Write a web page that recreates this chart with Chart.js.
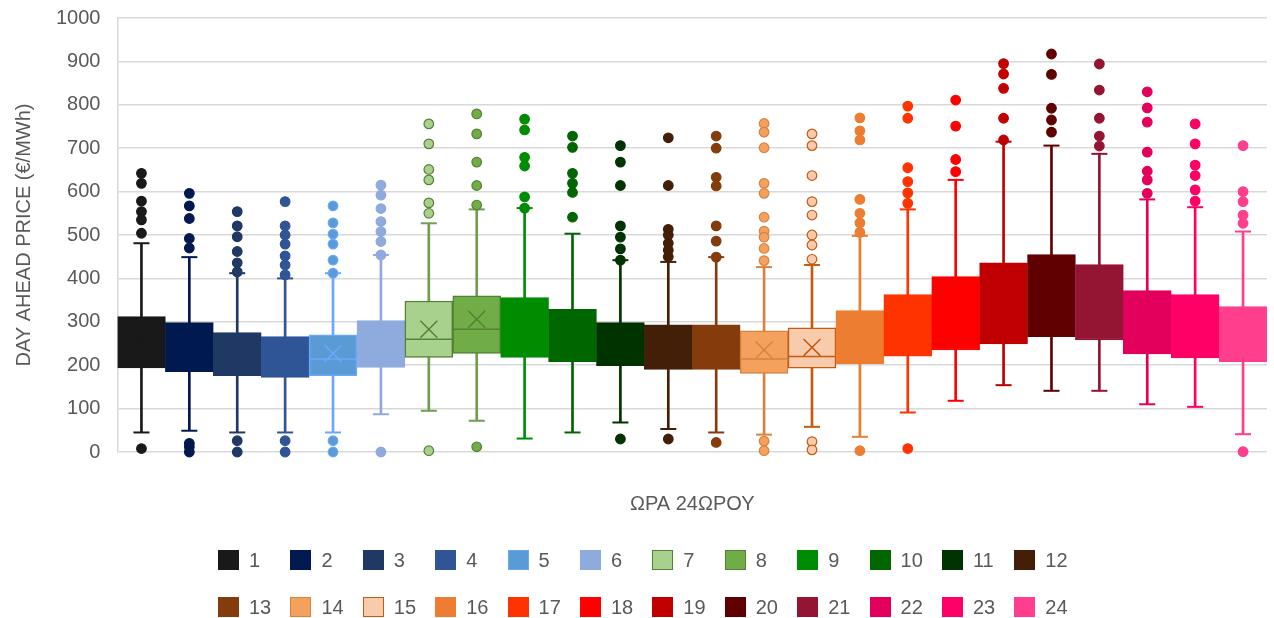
<!DOCTYPE html>
<html>
<head>
<meta charset="utf-8">
<title>Day ahead price per hour</title>
<script src="https://cdn.jsdelivr.net/npm/chart.js@4.4.1/dist/chart.umd.min.js"></script>
<style>
    html, body { margin: 0; background: #fff; overflow: hidden; }
    #wrap { position: relative; width: 1274px; height: 618px; }
    #legend {
        position: absolute; left: 218px; top: 550px;
        display: grid; grid-template-columns: repeat(12, 72.4px); row-gap: 27px;
        font: 20px 'Liberation Sans', Arial, sans-serif; color: #595959;
    }
    .item { display: flex; align-items: center; height: 20px; line-height: 20px; }
    .swatch { width: 21px; height: 20px; border: 1.5px solid; box-sizing: border-box; margin-right: 10px; }
</style>
</head>
<body>
<div id="wrap">
    <canvas id="boxChart"></canvas>
    <div id="legend"></div>
</div>
<script>
// one box per hour of the day
const hours = ['1','2','3','4','5','6','7','8','9','10','11','12','13','14','15','16','17','18','19','20','21','22','23','24'];

const whiskerLow  = [45, 49, 45, 45, 45, 87, 95, 72, 31, 45, 68, 53, 45, 40, 58, 35, 91, 118, 154, 141, 141, 110, 104, 41];
const q1          = [194, 185, 176, 172, 176, 195, 218, 227, 218, 208, 199, 190, 190, 181, 193, 203, 221, 235, 249, 266, 258, 226, 217, 208];
const medians     = [245, 235, 220, 215, 214, 240, 260, 283, 280, 265, 245, 240, 240, 214, 220, 260, 290, 320, 340, 360, 345, 295, 290, 270];
const means       = [260, 250, 235, 230, 227, 255, 283, 306, 300, 285, 262, 258, 258, 235, 241, 282, 312, 345, 365, 385, 370, 318, 310, 292];
const q3          = [312, 298, 275, 266, 270, 303, 348, 360, 356, 329, 298, 293, 293, 279, 286, 326, 363, 404, 436, 455, 432, 372, 363, 335];
const whiskerHigh = [481, 449, 412, 400, 412, 454, 527, 559, 562, 503, 442, 438, 449, 426, 431, 498, 559, 627, 715, 706, 687, 582, 564, 508];

const outliers = [
    [642, 619, 578, 554, 535, 504, 8],
    [596, 567, 538, 492, 470, 20, 12, 0],
    [554, 521, 496, 462, 436, 415, 26, 0],
    [577, 521, 500, 479, 452, 431, 408, 26, 0],
    [567, 528, 502, 479, 442, 412, 26, 0],
    [615, 592, 561, 531, 508, 485, 454, 0],
    [756, 710, 651, 627, 574, 550, 3],
    [779, 733, 668, 614, 569, 12],
    [767, 742, 679, 659, 588, 562],
    [728, 702, 642, 619, 598, 541],
    [706, 668, 614, 521, 495, 468, 442, 30],
    [724, 614, 513, 500, 481, 465, 450, 30],
    [728, 700, 633, 613, 521, 486, 449, 22],
    [757, 737, 701, 619, 596, 541, 509, 495, 469, 441, 25, 3],
    [733, 706, 637, 577, 546, 500, 477, 444, 24, 5],
    [770, 740, 719, 582, 550, 528, 506, 3],
    [797, 769, 655, 623, 597, 573, 8],
    [811, 751, 674, 646],
    [895, 871, 838, 769, 719],
    [917, 870, 792, 765, 737],
    [894, 834, 769, 728, 705],
    [830, 793, 760, 691, 647, 627, 596],
    [756, 710, 661, 637, 604, 578],
    [706, 600, 577, 546, 527, 1]
];

const fills = ['#191919', '#001a4f', '#1f3864', '#2f5597', '#5b9bd5', '#8faadc', '#a9d18e', '#70ad47',
               '#008c00', '#006600', '#003300', '#431f08', '#843c0c', '#f4a15d', '#f8cbad', '#ed7d31',
               '#ff3300', '#ff0000', '#c00000', '#600000', '#941434', '#e3005c', '#ff0066', '#ff3f8e'];
const borders = ['#191919', '#001a4f', '#1f3864', '#2f5597', '#6aa8ff', '#8faadc', '#548235', '#548235',
                 '#008c00', '#006600', '#003300', '#431f08', '#843c0c', '#d9823e', '#c55a11', '#ed7d31',
                 '#ff3300', '#ff0000', '#c00000', '#600000', '#941434', '#e3005c', '#ff0066', '#ff3f8e'];
// whiskers of the outlined boxes are a bit lighter than their borders
const whiskerColors = borders.map((c, i) => (i === 6 || i === 7) ? '#6f9e4f' : c);

const textColor = '#595959';
const gridColor = '#d9d9d9';

Chart.defaults.font.family = "'Liberation Sans', Arial, sans-serif";
Chart.defaults.color = textColor;

// whisker caps, outliers: points placed on the category axis
const capPoints = [];
const capColors = [];
hours.forEach((h, i) => {
    capPoints.push({ x: h, y: whiskerLow[i] }, { x: h, y: whiskerHigh[i] });
    capColors.push(whiskerColors[i], whiskerColors[i]);
});

const outlierPoints = [];
const outlierFill = [];
const outlierBorder = [];
outliers.forEach((list, i) => {
    list.forEach(v => {
        outlierPoints.push({ x: hours[i], y: v });
        outlierFill.push(fills[i]);
        outlierBorder.push(borders[i]);
    });
});

new Chart(document.getElementById('boxChart'), {
    type: 'bar',
    data: {
        labels: hours,
        datasets: [
            {
                label: 'whiskers',
                data: hours.map((h, i) => [whiskerLow[i], whiskerHigh[i]]),
                backgroundColor: whiskerColors,
                barThickness: 2,
                grouped: false,
                order: 4
            },
            {
                label: 'boxes',
                data: hours.map((h, i) => [q1[i], q3[i]]),
                backgroundColor: fills,
                borderColor: borders,
                borderWidth: 1.5,
                borderSkipped: false,
                barPercentage: 1,
                categoryPercentage: 1,
                grouped: false,
                order: 3
            },
            {
                type: 'line',
                label: 'caps',
                data: capPoints,
                showLine: false,
                clip: false,
                pointStyle: 'line',
                pointRadius: 8,
                pointBorderWidth: 2,
                pointBorderColor: capColors,
                order: 2
            },
            {
                type: 'line',
                label: 'median',
                data: medians,
                showLine: false,
                pointStyle: 'line',
                pointRadius: 23,
                pointBorderWidth: 1.5,
                pointBorderColor: borders,
                order: 1
            },
            {
                type: 'line',
                label: 'mean',
                data: means,
                showLine: false,
                pointStyle: 'crossRot',
                pointRadius: 12,
                pointBorderWidth: 1.5,
                pointBorderColor: borders,
                order: 1
            },
            {
                type: 'line',
                label: 'outliers',
                data: outlierPoints,
                showLine: false,
                clip: false,
                pointStyle: 'circle',
                pointRadius: 4.8,
                pointBorderWidth: 1.2,
                pointBackgroundColor: outlierFill,
                pointBorderColor: outlierBorder,
                order: 0
            }
        ]
    },
    options: {
        responsive: true,
        maintainAspectRatio: false,
        animation: false,
        events: [],
        layout: { autoPadding: false, padding: { top: 0, right: 7, bottom: 102, left: 0 } },
        plugins: {
            legend: { display: false },
            tooltip: { enabled: false }
        },
        scales: {
            x: {
                grid: { display: false, drawTicks: false },
                border: { display: false },
                ticks: { display: false },
                title: {
                    display: true,
                    text: 'ΩΡΑ 24ΩΡΟΥ',
                    font: { size: 20 },
                    padding: { top: 40, bottom: 0 }
                }
            },
            y: {
                min: 0,
                max: 1000,
                ticks: { stepSize: 100, padding: 6, font: { size: 20 }, callback: v => String(v) },
                grid: { color: gridColor, lineWidth: 1.5, drawTicks: true, tickLength: 11, tickColor: 'rgba(0,0,0,0)' },
                border: { display: true, color: gridColor, width: 1.5 },
                title: {
                    display: true,
                    text: 'DAY AHEAD PRICE (€/MWh)',
                    font: { size: 20 },
                    padding: { top: 12, bottom: 14 }
                }
            }
        }
    }
});

// legend: two rows of twelve hours, like the original
const legend = document.getElementById('legend');
hours.forEach((h, i) => {
    const item = document.createElement('div');
    item.className = 'item';
    item.innerHTML = `<span class="swatch" style="background:${fills[i]};border-color:${borders[i]}"></span><span>${h}</span>`;
    legend.appendChild(item);
});
</script>
</body>
</html>
